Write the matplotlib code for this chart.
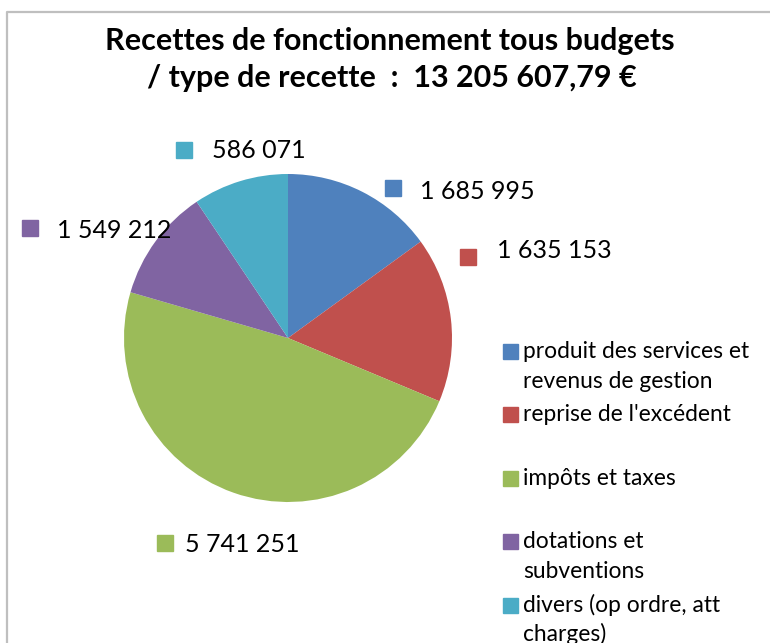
import matplotlib
matplotlib.use("Agg")
import matplotlib.pyplot as plt
from matplotlib.patches import Rectangle
from matplotlib.lines import Line2D

# data
categories = [["produit des services et", "revenus de gestion"],
              ["reprise de l'excédent"],
              ["impôts et taxes"],
              ["dotations et", "subventions"],
              ["divers (op ordre, att", "charges)"]]
values = [1685995, 1635153, 5741251, 1549212, 586071]
# slice shares (%)
shares = [15.0, 16.3, 48.2, 11.1, 9.4]
colors = ["#4F81BD", "#C0504D", "#9BBB59", "#8064A2", "#4BACC6"]
title_lines = ["Recettes de fonctionnement tous budgets",
               "/ type de recette  :  13 205 607,79 €"]

# layout (pixels, origin top-left)
W, H = 770, 643
# (square x, square center y, text x, text baseline y)
label_layout = [(385, 188, 420, 199),
                (460, 257, 497, 258),
                (157, 543, 185, 552),
                (22, 228, 57, 238),
                (176, 150, 212, 158)]
legend_x, legend_y0, legend_step, legend_line = 503, 358, 63.4, 29.7

plt.rcParams['font.family'] = ['Lato', 'DejaVu Sans']

fig = plt.figure(figsize=(W / 100, H / 100), dpi=100)

# pie axes: center (288, 338), radius 164 px
cx, cy, r = 288, 338, 164
ax = fig.add_axes([(cx - r) / W, 1 - (cy + r) / H, 2 * r / W, 2 * r / H])
ax.pie(shares, colors=colors, startangle=90, counterclock=False,
       radius=1, wedgeprops=dict(linewidth=0))
ax.set_xlim(-1, 1)
ax.set_ylim(-1, 1)
ax.set_aspect('equal')
ax.axis('off')

# overlay axes in pixel coords
ov = fig.add_axes([0, 0, 1, 1], zorder=5)
ov.set_xlim(0, W)
ov.set_ylim(H, 0)
ov.axis('off')
ov.patch.set_alpha(0)

# chart border
ov.add_line(Line2D([6.5, 6.5, W], [H, 11.5, 11.5], color="#bfbfbf", lw=1.6))

# title
ov.text(390, 50, title_lines[0], ha='center', va='baseline', fontsize=22,
        fontweight='bold', color='black')
ov.text(392, 87, title_lines[1], ha='center', va='baseline', fontsize=22,
        fontweight='bold', color='black')

# data labels
for (sx, sy, tx, ty), v, c in zip(label_layout, values, colors):
    ov.add_patch(Rectangle((sx, sy - 8), 16, 16, color=c))
    ov.text(tx, ty, f"{v:,}".replace(",", " "), ha='left', va='baseline',
            fontsize=18, color='black')

# legend
for i, (lines, c) in enumerate(zip(categories, colors)):
    y = legend_y0 + legend_step * i
    ov.add_patch(Rectangle((legend_x, y - 14), 15, 15, color=c))
    for k, line in enumerate(lines):
        ov.text(legend_x + 20, y + legend_line * k, line, ha='left',
                va='baseline', fontsize=16.4, color='black')

fig.savefig("out.png", dpi=100)
